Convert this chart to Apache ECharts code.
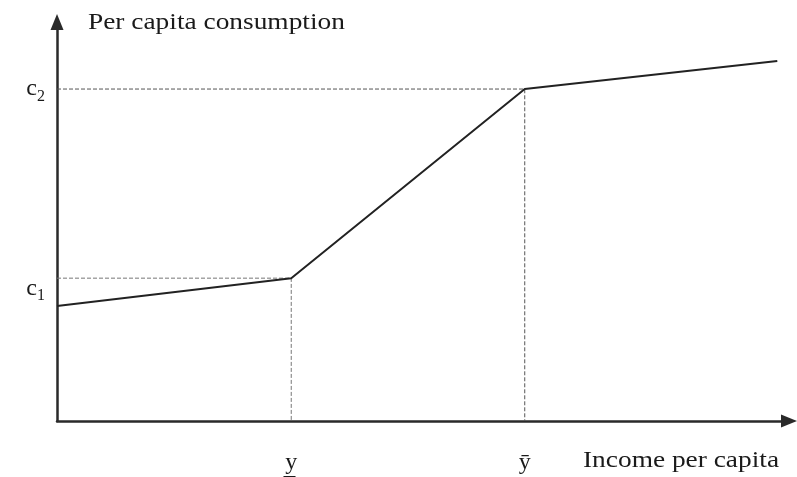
<!DOCTYPE html>
<html><head><meta charset="utf-8">
<script src="https://cdn.jsdelivr.net/npm/echarts@6/dist/echarts.min.js"></script>
<style>html,body{margin:0;padding:0;background:#fff}#c{width:797px;height:477px}</style>
</head><body><div id="c"></div>
<script>
// Income per capita (x) and per capita consumption (y), arbitrary units
const consumptionX = [0, 32.0, 63.9, 98.4];
const consumptionY = [28.8, 35.8, 83.2, 90.2];
const yLow = 32.0, yHigh = 63.9;   // y (underlined) and y-bar
const c1 = 35.8, c2 = 83.2;
const xTickValues = [yLow, yHigh];
const xTickLabels = ['y\u0332', 'y\u0304'];
const yTickValues = [c1, c2];
const yTickLabels = [['c', '1'], ['c', '2']];
const yAxisTitle = 'Per capita consumption';
const xAxisTitle = 'Income per capita';

const serif = 'Liberation Serif';
const chart = echarts.init(document.getElementById('c'));
chart.setOption({
  animation: false,
  grid: {left: 57, right: 8, top: 22, bottom: 56},
  xAxis: {
    type: 'value', min: 0, max: 100,
    splitLine: {show: false},
    axisLine: {lineStyle: {color: '#2a2a2a', width: 2.5}, symbol: ['none', 'triangle'], symbolSize: [13, 16]},
    axisTick: {show: false},
    axisLabel: {
      customValues: xTickValues, margin: 30,
      formatter: v => xTickLabels[xTickValues.indexOf(v)] || '',
      fontFamily: serif, fontSize: 24, color: '#1a1a1a'
    }
  },
  yAxis: {
    type: 'value', min: 0, max: 100,
    splitLine: {show: false},
    axisLine: {lineStyle: {color: '#2a2a2a', width: 2.5}, symbol: ['none', 'triangle'], symbolSize: [13, 16]},
    axisTick: {show: false},
    axisLabel: {
      customValues: yTickValues, margin: 12,
      formatter: v => {
        const i = yTickValues.indexOf(v);
        const t = yTickLabels[i];
        return t ? '{c' + i + '|' + t[0] + '}{s' + i + '|' + t[1] + '}' : '';
      },
      rich: {
        c0: {fontFamily: serif, fontSize: 24, color: '#1a1a1a', padding: [22, 0, 0, 0]},
        s0: {fontFamily: serif, fontSize: 16, color: '#1a1a1a', padding: [36, 0, 0, 0]},
        c1: {fontFamily: serif, fontSize: 24, color: '#1a1a1a', padding: [0, 0, 0, 0]},
        s1: {fontFamily: serif, fontSize: 16, color: '#1a1a1a', padding: [16, 0, 0, 0]}
      }
    }
  },
  graphic: [
    {type: 'text', x: 88, y: 11, scaleX: 1.19, style: {text: yAxisTitle, font: '23px "' + serif + '"', fill: '#1a1a1a'}},
    {type: 'text', x: 583, y: 449, scaleX: 1.19, style: {text: xAxisTitle, font: '23px "' + serif + '"', fill: '#1a1a1a'}}
  ],
  series: [
    {type: 'line', data: [[0, c1], [yLow, c1], [yLow, 0]], symbol: 'none',
     lineStyle: {color: '#777', width: 1, type: [4, 2]}},
    {type: 'line', data: [[0, c2], [yHigh, c2], [yHigh, 0]], symbol: 'none',
     lineStyle: {color: '#555', width: 1, type: [4, 2]}},
    {type: 'line', data: consumptionX.map((x, i) => [x, consumptionY[i]]), symbol: 'none',
     lineStyle: {color: '#222', width: 2}}
  ]
});
</script></body></html>
